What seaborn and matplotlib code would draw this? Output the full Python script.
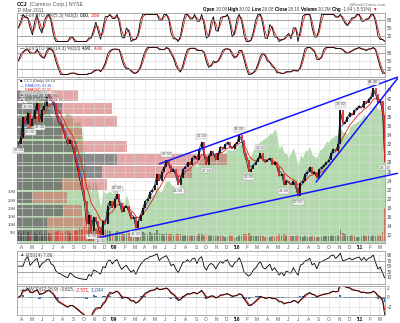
import numpy as np
import pandas as pd
import matplotlib
matplotlib.use("Agg")
import matplotlib.pyplot as plt
from matplotlib.transforms import offset_copy
import seaborn as sns

sns.set_theme(style="white")
plt.rcParams['font.family'] = ['Liberation Sans', 'DejaVu Sans']

# ---------------- data ----------------
# weekly closing dates (last point is the 17-Mar-2011 session)
week_dates = pd.DatetimeIndex(list(pd.date_range("2008-03-21", "2011-03-11", freq="W-FRI"))
                              + [pd.Timestamp("2011-03-17")])

ccj_close = [
    # 2008
    32.0, 33.5,
    38.0, 36.5, 39.0, 36.0,
    37.5, 39.5, 41.0, 37.0, 39.5,
    40.5, 42.5, 43.0, 41.5,
    41.0, 38.5, 37.0, 36.5,
    35.0, 33.5, 32.0, 33.0, 31.5,
    29.0, 27.0, 24.5, 22.0,
    19.5, 14.5, 16.5, 13.0, 16.0,
    15.0, 13.5, 12.0, 15.0,
    14.5, 18.5, 19.5, 18.0,
    # 2009
    20.0, 21.0, 19.0, 17.0, 18.0,
    18.5, 17.0, 15.5, 16.0,
    13.5, 15.0, 16.5, 18.0,
    19.5, 20.0, 21.5, 22.0,
    23.0, 25.5, 24.0, 26.0, 27.0,
    28.5, 27.5, 26.0, 26.5,
    25.0, 23.0, 24.5, 26.5, 27.0,
    28.0, 27.5, 29.0, 29.5,
    28.5, 31.0, 32.5, 29.5,
    27.5, 29.5, 30.5, 30.0, 28.5,
    30.0, 31.5, 31.0, 32.0,
    32.5, 31.5, 31.0, 32.0,
    # 2010
    32.5, 34.0, 33.0, 30.0, 28.5,
    26.0, 26.5, 27.5, 28.0,
    29.0, 30.0, 28.5, 28.0,
    28.5, 29.0, 27.5, 28.0, 27.0,
    25.0, 25.5, 23.0, 24.0,
    23.5, 23.0, 24.0, 22.5,
    20.5, 23.5, 24.0, 25.5, 26.0,
    27.0, 25.5, 26.0, 24.5,
    26.5, 27.0, 27.5, 28.0,
    28.5, 30.0, 31.0, 30.5, 32.0,
    39.5, 36.5, 37.0, 38.0,
    39.0, 38.5, 39.5, 40.0, 40.5,
    # 2011
    40.0, 41.5, 41.0, 42.0,
    42.5, 44.4, 43.0, 41.0,
    41.5, 38.5, 28.10,
]

# average daily volume, millions of shares
ccj_volume = [
    5.5, 5.0,
    6.0, 5.0, 5.5, 4.5,
    4.5, 5.0, 4.5, 5.5, 4.0,
    4.5, 5.0, 5.0, 4.5,
    5.0, 5.5, 6.0, 5.0,
    5.0, 5.5, 6.0, 5.0, 4.5,
    6.0, 6.5, 8.0, 7.5,
    9.0, 12.0, 11.0, 10.0, 9.0,
    8.0, 7.5, 8.5, 6.0,
    6.5, 7.0, 6.0, 4.0,
    5.0, 6.0, 5.5, 5.0, 4.5,
    4.5, 5.0, 5.5, 4.5,
    5.5, 6.0, 5.0, 5.5,
    5.0, 4.5, 5.5, 4.5,
    5.0, 6.5, 5.0, 4.5, 4.5,
    5.0, 4.0, 4.5, 3.5,
    4.0, 4.5, 4.0, 3.5, 3.5,
    3.5, 3.0, 3.5, 3.0,
    3.5, 4.0, 4.5, 3.5,
    4.0, 3.5, 3.5, 3.0, 3.5,
    3.0, 3.5, 3.0, 2.5,
    3.0, 3.5, 3.0, 2.0,
    2.5, 3.5, 3.5, 4.0, 4.0,
    5.0, 3.5, 3.0, 3.0,
    3.0, 3.5, 3.0, 2.5,
    2.5, 2.5, 3.0, 2.5, 3.0,
    4.0, 3.5, 4.0, 3.5,
    3.5, 3.0, 3.0, 3.0,
    3.5, 3.0, 2.5, 3.0, 2.5,
    2.5, 3.0, 2.5, 2.5,
    2.5, 2.5, 3.0, 3.0,
    3.0, 3.5, 3.0, 3.0, 3.5,
    7.0, 5.0, 4.0, 3.0,
    3.5, 3.5, 3.0, 2.5, 2.5,
    3.5, 3.5, 3.0, 3.5,
    3.0, 3.5, 3.0, 3.5,
    3.5, 5.5, 20.19539,
]

spx_close = [
    1330, 1316,
    1370, 1332, 1390, 1397,
    1413, 1388, 1425, 1375, 1400,
    1360, 1360, 1317, 1278,
    1262, 1239, 1260, 1257,
    1260, 1296, 1298, 1292, 1283,
    1242, 1252, 1255, 1213,
    1099, 899, 940, 877, 968,
    930, 873, 800, 896,
    876, 879, 887, 873,
    932, 890, 850, 832, 826,
    869, 827, 770, 735,
    683, 756, 768, 816,
    843, 857, 870, 866,
    877, 930, 882, 887, 919,
    940, 946, 921, 918,
    896, 879, 940, 979, 987,
    1010, 1004, 1026, 1029,
    1016, 1042, 1068, 1044,
    1025, 1072, 1087, 1080, 1036,
    1069, 1093, 1091, 1091,
    1106, 1106, 1102, 1126,
    1115, 1145, 1136, 1092, 1074,
    1066, 1075, 1109, 1105,
    1139, 1150, 1160, 1167,
    1178, 1194, 1192, 1217, 1187,
    1111, 1136, 1088, 1089,
    1065, 1092, 1117, 1076,
    1022, 1078, 1065, 1102, 1102,
    1122, 1079, 1071, 1065,
    1105, 1110, 1125, 1149,
    1147, 1166, 1176, 1183, 1183,
    1225, 1200, 1199, 1190,
    1225, 1240, 1244, 1257, 1258,
    1272, 1293, 1284, 1276,
    1311, 1329, 1343, 1320,
    1321, 1304, 1273.72,
]

# last session
session_open, session_high, session_low, prior_close = 30.00, 30.02, 28.08, 29.74

# volume-by-price zones: zone floor price, up volume, down volume (millions of shares)
vbp_floor = [10.5, 13.3, 16.1, 18.9, 21.7, 24.5, 27.3, 30.1, 32.9, 35.7, 38.5, 41.3]
vbp_up = [82, 82, 125, 41, 122, 231, 272, 163, 122, 122, 122, 82]
vbp_down = [149, 109, 52, 95, 122, 245, 299, 136, 54, 150, 136, 84]
vbp_zone = 2.8

# trend lines: start/end dates and prices
channel_top_dates = ["2009-05-15", "2011-04-24"]
channel_top_price = [27.7, 46.8]
channel_bottom_dates = ["2008-11-19", "2011-04-24"]
channel_bottom_price = [11.5, 25.6]
support_dates = ["2010-08-25", "2011-04-24"]
support_price = [23.7, 46.5]

# annotated swing points (week index, side)
label_weeks = [0, 4, 5, 9, 31, 35, 42, 50, 63, 68, 78, 80, 94, 98, 103, 113, 119, 137, 151, 156]
label_side = ['lo', 'hi', 'lo', 'lo', 'lo', 'lo', 'hi', 'lo', 'hi', 'lo', 'hi', 'lo',
              'hi', 'lo', 'hi', 'lo', 'lo', 'hi', 'hi', 'lo']

month_ticks = pd.date_range("2008-04-01", "2011-03-01", freq="MS")
month_labels = [("'" + d.strftime('%y')) if d.month == 1 else d.strftime('%b')[0] for d in month_ticks]

assert len(ccj_close) == len(week_dates) == len(ccj_volume) == len(spx_close)

# ---------------- indicators ----------------
close = pd.Series(ccj_close, index=week_dates)
volume = pd.Series(ccj_volume, index=week_dates)
spx = pd.Series(spx_close, index=week_dates)

ema13 = close.ewm(span=2.6, adjust=False).mean()
ema34 = close.ewm(span=6.8, adjust=False).mean()


def stochastic(s, n, k_smooth, d_smooth):
    lo = s.rolling(n, min_periods=1).min()
    hi = s.rolling(n, min_periods=1).max()
    raw = (100 * (s - lo) / (hi - lo).replace(0, np.nan)).fillna(50)
    k = raw.rolling(k_smooth, min_periods=1).mean()
    d = k.rolling(d_smooth, min_periods=1).mean()
    return k, d


sto_fast_k, sto_fast_d = stochastic(close, 4, 2, 2)
sto_slow_k, sto_slow_d = stochastic(close, 7, 3, 2)

delta = close.diff().fillna(0)
gain = delta.clip(lower=0).ewm(alpha=1 / 4, adjust=False).mean()
loss = (-delta.clip(upper=0)).ewm(alpha=1 / 4, adjust=False).mean()
rsi = (100 - 100 / (1 + gain / loss.replace(0, np.nan))).fillna(50)

macd = close.ewm(span=3, adjust=False).mean() - close.ewm(span=7, adjust=False).mean()
macd_signal = macd.ewm(span=2, adjust=False).mean()
macd_hist = macd - macd_signal

# ---------------- layout ----------------
FW, FH = 400, 323
L, Wd = 17 / FW, 368 / FW
RED = '#e0201b'
EMA_BLUE = '#2b4fd0'
TREND_BLUE = '#1414ff'
GRID = '#e2e2e2'
XLIM = (pd.Timestamp('2008-03-17'), pd.Timestamp('2011-03-18'))

fig = plt.figure(figsize=(FW / 100, FH / 100), dpi=100)
fig.patch.set_facecolor('white')


def box(top, bottom):
    return [L, 1 - bottom / FH, Wd, (bottom - top) / FH]


def style_panel(ax, yticks, frame=True, grid=True):
    ax.set_xlim(XLIM)
    ax.set_xticks(month_ticks)
    ax.set_yticks(yticks)
    ax.yaxis.tick_right()
    ax.tick_params(length=0, labelsize=3.4, colors='#444444', pad=1.2)
    ax.tick_params(axis='x', labelbottom=False)
    if grid:
        ax.grid(True, color=GRID, lw=0.5)
        ax.set_axisbelow(True)
    for s in ax.spines.values():
        s.set_color('#9c9c9c')
        s.set_linewidth(0.6)
        s.set_visible(frame)
    ax.set_xlabel('')
    ax.set_ylabel('')


def show_months(ax):
    ax.tick_params(axis='x', labelbottom=True, labelsize=3.4, pad=1.3, colors='#555555')
    ax.set_xticklabels(month_labels)
    for lab, d in zip(ax.get_xticklabels(), month_ticks):
        if d.month == 1:
            lab.set_fontweight('bold')
            lab.set_color('black')


renderer = fig.canvas.get_renderer()


def rich_text(x_px, y_px, parts, size=3.4, bg=False):
    trans = fig.transFigure
    for s, color, weight in parts:
        kw = {}
        if bg:
            kw['bbox'] = dict(boxstyle='square,pad=0.0', fc='white', ec='none', alpha=0.5)
        t = fig.text(x_px / FW, 1 - y_px / FH, s, color=color, fontsize=size, fontweight=weight,
                     va='center', ha='left', transform=trans, **kw)
        ext = t.get_window_extent(renderer)
        trans = offset_copy(t.get_transform(), fig=fig, x=ext.width, units='dots')


date_axes = []

# ---------------- stochastic panels ----------------
for top, bottom, k, d, params in [(13, 44, sto_fast_k, sto_fast_d, "%K(5,3) %D(3)"),
                                  (46, 77, sto_slow_k, sto_slow_d, "%K(14,3) %D(3)")]:
    a = fig.add_axes(box(top, bottom))
    date_axes.append(a)
    sns.lineplot(x=week_dates, y=d.values, ax=a, color=RED, lw=0.6, estimator=None)
    sns.lineplot(x=week_dates, y=k.values, ax=a, color='black', lw=0.6, estimator=None)
    a.axhline(80, color='#8a8a8a', lw=0.5)
    a.axhline(20, color='#8a8a8a', lw=0.5)
    a.set_ylim(-9, 105)
    style_panel(a, [20, 50, 80])
    rich_text(20, top + 2.6, [("\u2014 ", 'black', 'normal'),
                              (f"Full STO {params} ", '#444444', 'normal'),
                              (f"{k.iloc[-1]:.2f}", 'black', 'normal'),
                              (", ", '#444444', 'normal'),
                              (f"{d.iloc[-1]:.2f}", RED, 'normal')])

# ---------------- price panel ----------------
MAIN = box(79, 243)
PRICE_LIM = (10.25, 46.4)

ax_spx = fig.add_axes(MAIN)
date_axes.append(ax_spx)
ax_spx.fill_between(week_dates, 0, spx.values, color='#b5d9ae', lw=0, zorder=1)
ax_spx.set_ylim(612, 1481)
style_panel(ax_spx, [], grid=False)
ax_spx.set_yticks([])
show_months(ax_spx)

# volume by price (its own horizontal scale)
ax_vbp = fig.add_axes(MAIN, frameon=False)
centers = [f + vbp_zone / 2 for f in vbp_floor]
ax_vbp.barh(centers, vbp_up, height=vbp_zone * 0.88, left=0, color='#5f5f5f', alpha=0.72, lw=0)
ax_vbp.barh(centers, vbp_down, height=vbp_zone * 0.88, left=vbp_up, color='#cf5f5f', alpha=0.55, lw=0)
ax_vbp.set_xlim(0, 1000)
ax_vbp.set_ylim(PRICE_LIM)
ax_vbp.axis('off')

ax_vol = fig.add_axes(MAIN, frameon=False, sharex=ax_spx)
date_axes.append(ax_vol)
prev_close = close.shift(1).fillna(close.iloc[0])
is_up = (close >= prev_close).values
ax_vol.bar(week_dates[is_up], volume.values[is_up], width=5, color='#303030', alpha=0.5, lw=0)
ax_vol.bar(week_dates[~is_up], volume.values[~is_up], width=5, color=RED, alpha=0.55, lw=0)
ax_vol.set_ylim(-1.2, 98.8)
ax_vol.set_yticks([5, 10, 15, 20, 25, 30])
ax_vol.set_yticklabels([f"{v}M" for v in [5, 10, 15, 20, 25, 30]])
ax_vol.yaxis.tick_left()
ax_vol.tick_params(length=0, labelsize=3.0, colors='#444444', pad=0.8)
ax_vol.tick_params(axis='x', labelbottom=False)
ax_vol.patch.set_visible(False)

ax = fig.add_axes(MAIN, frameon=False, sharex=ax_spx)
date_axes.append(ax)
ax.patch.set_visible(False)
style_panel(ax, np.arange(12, 45, 2), frame=False)
ax.set_ylim(PRICE_LIM)
ax.grid(True, color='#dcdcdc', lw=0.45, alpha=0.8)
sns.lineplot(x=week_dates, y=ema34.values, ax=ax, color=RED, lw=0.6, estimator=None)
sns.lineplot(x=week_dates, y=ema13.values, ax=ax, color=EMA_BLUE, lw=0.6, estimator=None)
sns.lineplot(x=week_dates, y=close.values, ax=ax, color='black', lw=0.45, estimator=None)
ax.vlines(week_dates[is_up], prev_close.values[is_up], close.values[is_up], color='black', lw=1.2)
ax.vlines(week_dates[~is_up], prev_close.values[~is_up], close.values[~is_up], color=RED, lw=1.2)

for dts, prs in [(channel_top_dates, channel_top_price),
                 (channel_bottom_dates, channel_bottom_price),
                 (support_dates, support_price)]:
    ax.plot(pd.to_datetime(dts), prs, color=TREND_BLUE, lw=1.1, clip_on=False, zorder=5)

for i, side in zip(label_weeks, label_side):
    v = ccj_close[i]
    ax.annotate(f"{v:.2f}", (week_dates[i], v), xytext=(0, 4.2 if side == 'hi' else -4.2),
                textcoords='offset points', ha='center', va='center', fontsize=2.9, color='#555555',
                bbox=dict(boxstyle='square,pad=0.15', fc='#f6f6f6', ec='#9a9a9a', lw=0.3), zorder=6)
ax.tick_params(axis='x', labelbottom=False)

# ---------------- RSI panel ----------------
ax_r = fig.add_axes(box(251, 284), sharex=ax_spx)
date_axes.append(ax_r)
sns.lineplot(x=week_dates, y=rsi.values, ax=ax_r, color='black', lw=0.6, estimator=None)
ax_r.axhline(70, color='#8a8a8a', lw=0.5)
ax_r.axhline(30, color='#8a8a8a', lw=0.5)
ax_r.set_ylim(-14, 104)
style_panel(ax_r, [10, 30, 50, 70, 90])

# ---------------- MACD panel ----------------
ax_m = fig.add_axes(box(286, 315), sharex=ax_spx)
date_axes.append(ax_m)
ax_m.bar(week_dates, macd_hist.values, width=6, color='#1c5fa6', lw=0, alpha=0.9)
ax_m.axhline(0, color='#9a9a9a', lw=0.5)
sns.lineplot(x=week_dates, y=macd_signal.values, ax=ax_m, color=RED, lw=0.7, estimator=None)
sns.lineplot(x=week_dates, y=macd.values, ax=ax_m, color='black', lw=0.6, estimator=None)
ax_m.set_ylim(-3.7, 2.4)
style_panel(ax_m, [-2, 0, 2])
show_months(ax_m)

# re-apply the date range after seaborn calls
for a in date_axes:
    a.set_xlim(XLIM)

# ---------------- text ----------------
rich_text(17, 4.5, [("CCJ", 'black', 'bold'), (" (Cameco Corp.) NYSE", '#555555', 'normal')], size=3.8)
rich_text(17, 10.5, [("17-Mar-2011", '#555555', 'normal')], size=3.5)
fig.text(386 / FW, 1 - 4 / FH, "@StockCharts.com", ha='right', va='center', fontsize=3.2, color='#777777')
chg = ccj_close[-1] - prior_close
rich_text(203, 9.2, [("Open ", 'black', 'bold'), (f"{session_open:.2f} ", '#444444', 'normal'),
                     ("High ", 'black', 'bold'), (f"{session_high:.2f} ", '#444444', 'normal'),
                     ("Low ", 'black', 'bold'), (f"{session_low:.2f} ", '#444444', 'normal'),
                     ("Close ", 'black', 'bold'), (f"{ccj_close[-1]:.2f} ", '#444444', 'normal'),
                     ("Volume ", 'black', 'bold'), (f"{ccj_volume[-1]:.1f}M ", '#444444', 'normal'),
                     ("Chg ", 'black', 'bold'),
                     (f"{chg:.2f} ({100 * chg / prior_close:.2f}%) ", '#444444', 'normal'),
                     ("\u25bc", RED, 'normal')], size=3.25)

legend_rows = [
    [("\u25a0 ", 'black', 'normal'), (f"CCJ (Daily) {ccj_close[-1]:.2f}", '#444444', 'normal')],
    [("\u2014 ", EMA_BLUE, 'normal'), (f"EMA(13) {ema13.iloc[-1]:.2f}", EMA_BLUE, 'normal')],
    [("\u2014 ", RED, 'normal'), (f"EMA(34) {ema34.iloc[-1]:.2f}", RED, 'normal')],
    [("\u25b2 ", '#555555', 'normal'), (f"Volume {ccj_volume[-1] * 1e6:,.0f}", '#444444', 'normal')],
    [("\u25b2 ", '#555555', 'normal'), (f"$SPX (Daily) {spx_close[-1]:.2f}", '#444444', 'normal')],
]
for row, parts in enumerate(legend_rows):
    rich_text(20, 81.3 + 4.6 * row, parts, size=2.8, bg=True)

rich_text(20, 255, [("\u25b2 ", '#555555', 'normal'),
                    (f"RSI(14) {rsi.iloc[-1]:.2f}", '#444444', 'normal')], size=3.3)
rich_text(20, 290, [("\u2014 ", 'black', 'normal'),
                    (f"MACD(12,26,9) {macd.iloc[-1]:.3f}, ", '#444444', 'normal'),
                    (f"{macd_signal.iloc[-1]:.3f}, ", RED, 'normal'),
                    (f"{macd_hist.iloc[-1]:.3f}", '#1c5fa6', 'normal')], size=3.3)

fig.savefig("out.png", dpi=100)
